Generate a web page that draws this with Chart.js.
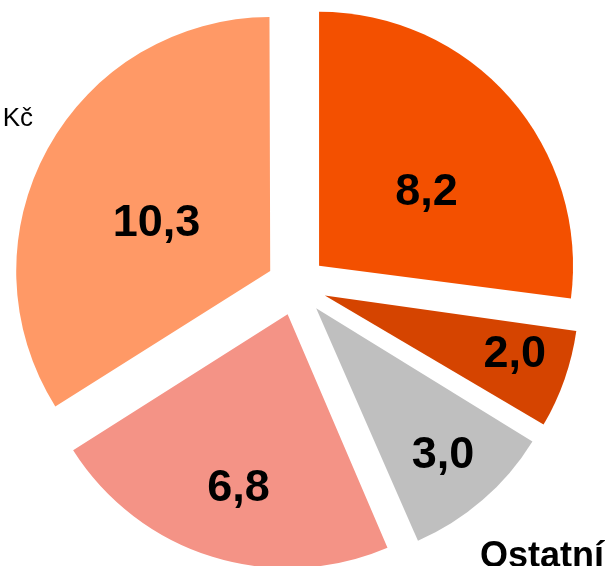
<!DOCTYPE html>
<html>
<head>
<meta charset="utf-8">
<script src="https://cdn.jsdelivr.net/npm/chart.js@4.4.0/dist/chart.umd.min.js"></script>
<style>
    html, body { margin: 0; padding: 0; background: #fff; overflow: hidden; }
    #wrap { width: 608px; height: 566px; }
</style>
</head>
<body>
<div id="wrap"><canvas id="graf" width="608" height="566"></canvas></div>
<script>
// data (mld. Kč), clockwise from 12 o'clock
const kategorie = ['Položka A', 'Položka B', 'Ostatní', 'Položka C', 'Položka D'];
const hodnoty = [8.2, 2.0, 3.0, 6.8, 10.3];
const barvy = ['#F35000', '#D54400', '#BFBFBF', '#F49386', '#FF9966'];

// where each value label sits: fraction of radius, small angle tweak (deg)
const popiskyRadius = [0.52, 0.78, 0.755, 0.70, 0.49];
const popiskyUhel = [5.7, -2.9, -0.4, -1.2, -4.8];

const POSUN = 30; // how far each slice is pulled out (px)
const POLOMER = 254;

const font = '"Liberation Sans", Arial, sans-serif';

// chart.js pulls a slice by offset/4 but also grows narrow slices by
// offset/4 * (1 - sin(circumference)); undo the growth so all slices match
const srovnaniPlugin = {
    id: 'srovnani',
    beforeDatasetsDraw(chart) {
        const meta = chart.getDatasetMeta(0);
        meta.data.forEach(arc => {
            const fix = 1 - Math.sin(Math.min(Math.PI, arc.circumference));
            arc.outerRadius = meta.controller.outerRadius - POSUN * fix;
        });
    }
};

const popiskyPlugin = {
    id: 'popisky',
    afterDatasetsDraw(chart) {
        const ctx = chart.ctx;
        const meta = chart.getDatasetMeta(0);
        const R = meta.controller.outerRadius;
        ctx.save();
        ctx.fillStyle = '#000';
        ctx.textAlign = 'center';
        ctx.textBaseline = 'alphabetic';
        ctx.font = 'bold 45px ' + font;
        meta.data.forEach((arc, i) => {
            const mid = (arc.startAngle + arc.endAngle) / 2;
            const cx = arc.x + Math.cos(mid) * POSUN;
            const cy = arc.y + Math.sin(mid) * POSUN;
            const a = mid + popiskyUhel[i] * Math.PI / 180;
            const r = R * popiskyRadius[i];
            const text = hodnoty[i].toFixed(1).replace('.', ',');
            ctx.fillText(text, cx + Math.cos(a) * r, cy + Math.sin(a) * r + 16);
        });

        // category labels, cut by the picture edges
        ctx.textAlign = 'right';
        ctx.font = '26px ' + font;
        ctx.fillText('mld. Kč', 33, 126);
        ctx.textAlign = 'left';
        ctx.font = 'bold 36px ' + font;
        ctx.fillText('Ostatní', 480, 567);
        ctx.restore();
    }
};

new Chart(document.getElementById('graf'), {
    type: 'pie',
    data: {
        labels: kategorie,
        datasets: [{
            data: hodnoty,
            backgroundColor: barvy,
            borderWidth: 0,
            offset: POSUN * 4,
            clip: false
        }]
    },
    options: {
        responsive: false,
        animation: false,
        events: [],
        radius: POLOMER,
        layout: { padding: { left: 0, right: 15, top: 5, bottom: 0 } },
        plugins: {
            legend: { display: false },
            tooltip: { enabled: false }
        }
    },
    plugins: [srovnaniPlugin, popiskyPlugin]
});
</script>
</body>
</html>
